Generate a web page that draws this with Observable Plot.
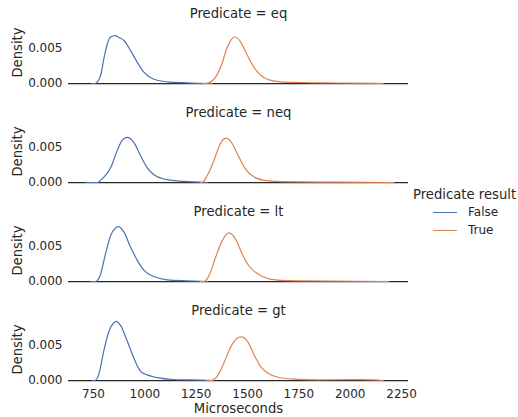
<!DOCTYPE html>
<html>
<head>
<meta charset="utf-8">
<script src="https://cdn.jsdelivr.net/npm/d3@7"></script>
<script src="https://cdn.jsdelivr.net/npm/@observablehq/plot@0.6"></script>
<style>
  html, body { margin: 0; padding: 0; background: #fff; }
  #wrap { position: relative; width: 518px; height: 417px; font-family: "DejaVu Sans", sans-serif; color: #262626; }
  #legend { position: absolute; left: 413px; top: 187px; }
  #legend .title { font-size: 13.2px; line-height: 16px; white-space: nowrap; }
  #legend .item { display: flex; align-items: center; height: 18px; font-size: 12px; margin-left: 20px; }
  #legend .swatch { width: 24px; height: 0; border-top: 1.5px solid; margin-right: 11px; }
</style>
</head>
<body>
<div id="wrap"><div id="legend"></div></div>
<script>
// Facets, series and axis ticks
const predicates = ["eq", "neq", "lt", "gt"];
const results = ["False", "True"];
const xTicks = [750, 1000, 1250, 1500, 1750, 2000, 2250];
const yTicks = [0, 0.005];
const colors = ["#4c72b0", "#dd8452"];

// Kernel density estimates of timing (microseconds -> density)
const eqFalseX = [740, 756, 784, 800, 817, 833, 854, 876, 898, 930, 963, 995, 1044, 1109, 1206, 1271, 1330];
const eqFalseY = [0, 0, 0.0011, 0.0035, 0.0056, 0.0066, 0.0068, 0.0065, 0.0061, 0.0047, 0.0030, 0.0016, 0.0006, 0.00024, 0.0001, 0.00003, 0];
const eqTrueX = [1280, 1296, 1336, 1369, 1401, 1420, 1438, 1452, 1466, 1499, 1531, 1563, 1596, 1661, 1758, 1921, 2148, 2160];
const eqTrueY = [0, 0, 0.0006, 0.0023, 0.0051, 0.0062, 0.0066, 0.0064, 0.0059, 0.0040, 0.0023, 0.0012, 0.0006, 0.00024, 0.00014, 0.00007, 0.00002, 0];

const neqFalseX = [711, 770, 784, 808, 833, 865, 890, 914, 946, 979, 1011, 1044, 1092, 1158, 1239, 1304];
const neqFalseY = [0, 0, 0.0003, 0.0010, 0.0021, 0.0045, 0.0060, 0.0064, 0.0057, 0.0038, 0.0021, 0.0011, 0.0005, 0.00024, 0.0001, 0];
const neqTrueX = [1270, 1279, 1304, 1336, 1360, 1376, 1393, 1410, 1426, 1458, 1490, 1531, 1580, 1661, 1921, 2213];
const neqTrueY = [0, 0, 0.0010, 0.0031, 0.0050, 0.0059, 0.0063, 0.0061, 0.0055, 0.0036, 0.0019, 0.0008, 0.0003, 0.00012, 0.00005, 0];

const ltFalseX = [735, 760, 784, 808, 833, 857, 873, 898, 930, 963, 995, 1044, 1109, 1206, 1304];
const ltFalseY = [0, 0, 0.0010, 0.0039, 0.0065, 0.0076, 0.0078, 0.0070, 0.0049, 0.0030, 0.0016, 0.0007, 0.00024, 0.0001, 0];
const ltTrueX = [1270, 1287, 1312, 1344, 1377, 1409, 1442, 1474, 1507, 1539, 1580, 1645, 1758, 2188];
const ltTrueY = [0, 0, 0.0008, 0.0034, 0.0058, 0.0069, 0.0060, 0.0039, 0.0022, 0.0013, 0.0006, 0.0002, 0.0001, 0];

const gtFalseX = [745, 756, 776, 800, 825, 849, 860, 882, 914, 946, 979, 1011, 1060, 1141, 1271, 1336];
const gtFalseY = [0, 0, 0.0009, 0.0042, 0.0070, 0.0082, 0.0084, 0.0078, 0.0056, 0.0032, 0.0013, 0.0008, 0.0004, 0.00014, 0.00005, 0];
const gtTrueX = [1300, 1320, 1352, 1385, 1417, 1450, 1469, 1499, 1531, 1563, 1596, 1645, 1726, 1840, 2002, 2115, 2148, 2160];
const gtTrueY = [0, 0, 0.0006, 0.0025, 0.0047, 0.0060, 0.0062, 0.0056, 0.0037, 0.0020, 0.0011, 0.0005, 0.0002, 0.0001, 0.00012, 0.0001, 0.00003, 0];

const curves = [
  ["eq", "False", eqFalseX, eqFalseY], ["eq", "True", eqTrueX, eqTrueY],
  ["neq", "False", neqFalseX, neqFalseY], ["neq", "True", neqTrueX, neqTrueY],
  ["lt", "False", ltFalseX, ltFalseY], ["lt", "True", ltTrueX, ltTrueY],
  ["gt", "False", gtFalseX, gtFalseY], ["gt", "True", gtTrueX, gtTrueY]
];
const rows = curves.flatMap(([predicate, result, xs, ys]) =>
  xs.map((x, i) => ({predicate, result, x, density: ys[i]})));

const chart = Plot.plot({
  width: 518,
  height: 417,
  marginLeft: 68,
  marginRight: 110,
  marginTop: 21.4,
  marginBottom: 37,
  style: {fontFamily: "DejaVu Sans, sans-serif", fontSize: "12px", color: "#262626", background: "white"},
  x: {domain: [628, 2284]},
  y: {domain: [0, 0.0088]},
  fy: {domain: predicates, axis: null, paddingInner: 0.378, paddingOuter: 0},
  color: {domain: results, range: colors},
  marks: [
    Plot.axisY({ticks: yTicks, tickFormat: d3.format(".3f"), tickSize: 0, tickPadding: 6, label: null}),
    Plot.axisX({ticks: xTicks, tickFormat: d => String(d), tickSize: 0, tickPadding: 8.5, label: null}),
    Plot.ruleY([0], {stroke: "#262626", strokeWidth: 1.25}),
    Plot.line(rows, {x: "x", y: "density", z: "result", stroke: "result", fy: "predicate", curve: "monotone-x", strokeWidth: 1.2}),
    Plot.text(predicates, {fy: d => d, text: d => `Predicate = ${d}`, frameAnchor: "top", lineAnchor: "middle", textAnchor: "middle", dy: -7.5, fontSize: 13.2, fill: "#262626"}),
    Plot.text(predicates, {fy: d => d, text: () => "Density", frameAnchor: "left", lineAnchor: "middle", textAnchor: "middle", dx: -51, rotate: -90, fontSize: 13.2, fill: "#262626"}),
    Plot.text(["gt"], {fy: d => d, text: () => "Microseconds", frameAnchor: "bottom", lineAnchor: "middle", textAnchor: "middle", dy: 28, fontSize: 13.2, fill: "#262626"})
  ]
});
document.getElementById("wrap").prepend(chart);

// Legend for the hue variable
const legend = document.getElementById("legend");
const title = document.createElement("div");
title.className = "title";
title.textContent = "Predicate result";
legend.appendChild(title);
results.forEach((r, i) => {
  const item = document.createElement("div");
  item.className = "item";
  const sw = document.createElement("span");
  sw.className = "swatch";
  sw.style.borderColor = colors[i];
  const label = document.createElement("span");
  label.textContent = r;
  item.append(sw, label);
  legend.appendChild(item);
});
</script>
</body>
</html>
